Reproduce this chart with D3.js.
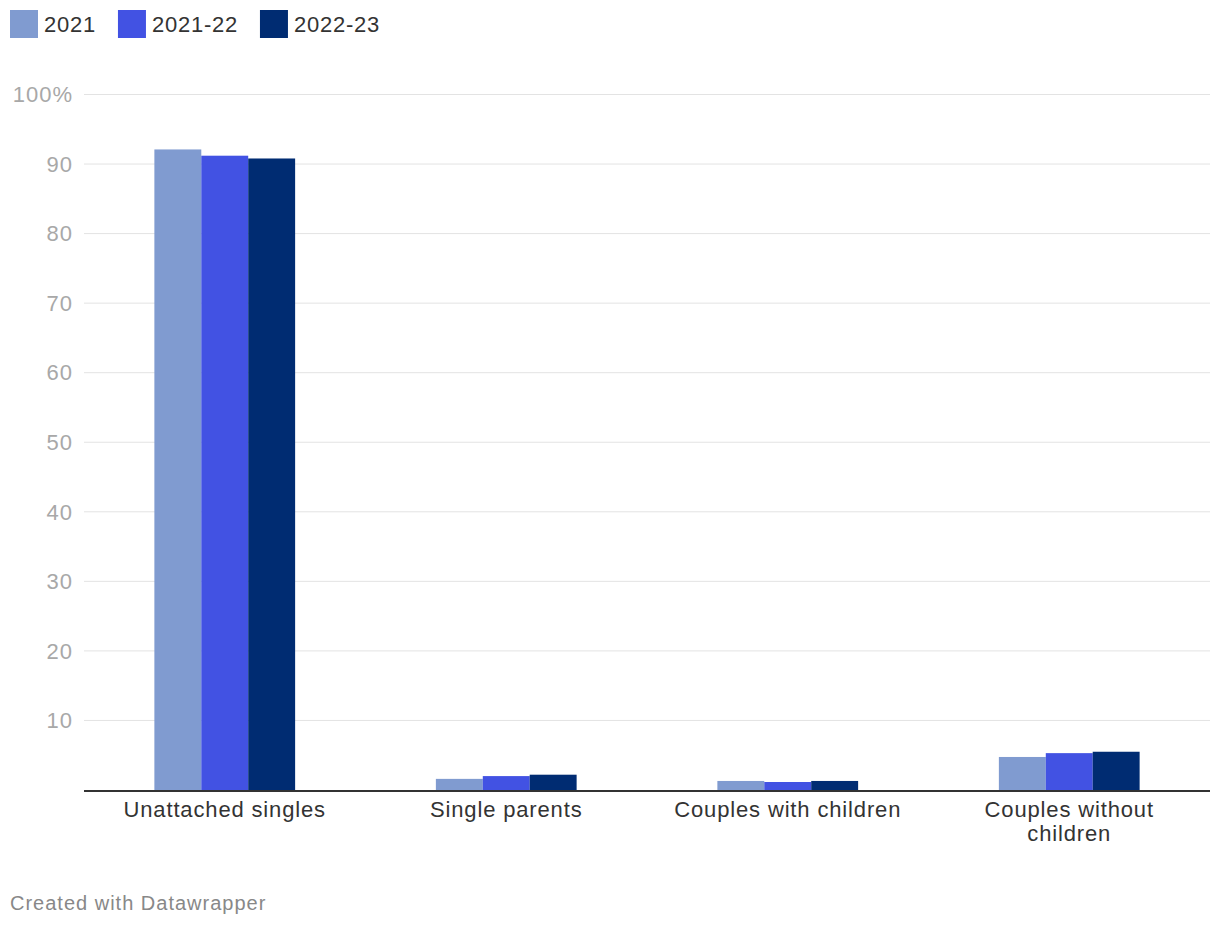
<!DOCTYPE html>
<html><head><meta charset="utf-8">
<script src="https://cdn.jsdelivr.net/npm/d3@7"></script>
<style>body{margin:0;background:#fff;font-family:"Liberation Sans",Arial,Helvetica,sans-serif;}</style>
</head><body>
<svg id="c" width="1220" height="928"></svg>
<script>
const categories = ["Unattached singles", "Single parents", "Couples with children", "Couples without children"];
const seriesNames = ["2021", "2021-22", "2022-23"];
const values2021 = [92.1, 1.6, 1.3, 4.75];
const values2122 = [91.2, 2.0, 1.15, 5.3];
const values2223 = [90.8, 2.2, 1.3, 5.5];
const colors = ["#809bd0", "#4252e3", "#002c72"];
const yTicks = [10, 20, 30, 40, 50, 60, 70, 80, 90, 100];

const series = [values2021, values2122, values2223];
const svg = d3.select("#c");
const font = '"Liberation Sans",Arial,Helvetica,sans-serif';

// legend
let lx = 10;
const legend = svg.append("g");
seriesNames.forEach((n, i) => {
  const g = legend.append("g").attr("transform", `translate(${lx},10)`);
  g.append("rect").attr("width", 28).attr("height", 28).attr("fill", colors[i]);
  const t = g.append("text").attr("x", 34).attr("y", 22).attr("font-size", 22).attr("letter-spacing", 0.75)
    .attr("fill", "#333").attr("font-family", font).text(n);
  lx += 34 + t.node().getComputedTextLength() + 22;
});

const x = d3.scaleBand().domain(categories).range([84, 1210]).paddingInner(0.5).paddingOuter(0.25);
const x1 = d3.scaleBand().domain(seriesNames).range([0, x.bandwidth()]);
const y = d3.scaleLinear().domain([0, 100]).range([790, 94.5]);

// grid
const grid = svg.append("g");
yTicks.forEach(t => {
  grid.append("line").attr("x1", 84).attr("x2", 1210).attr("y1", y(t)).attr("y2", y(t)).attr("stroke", "#e3e3e3").attr("stroke-width", 1);
  grid.append("text").attr("x", 73).attr("y", y(t)).attr("dy", "0.35em").attr("text-anchor", "end")
    .attr("font-size", 22).attr("letter-spacing", 1).attr("fill", "#a8a8a8").attr("font-family", font).text(t === 100 ? "100%" : t);
});

// bars
const bars = svg.append("g");
categories.forEach((c, ci) => {
  series.forEach((s, si) => {
    bars.append("rect")
      .attr("x", x(c) + x1(seriesNames[si]))
      .attr("width", x1.bandwidth())
      .attr("y", y(s[ci]))
      .attr("height", y(0) - y(s[ci]))
      .attr("fill", colors[si]);
  });
});

// axis line
svg.append("line").attr("x1", 84).attr("x2", 1210).attr("y1", y(0) + 1).attr("y2", y(0) + 1).attr("stroke", "#333").attr("stroke-width", 2);

// category labels
const labelLines = [["Unattached singles"], ["Single parents"], ["Couples with children"], ["Couples without", "children"]];
categories.forEach((c, ci) => {
  const t = svg.append("text").attr("text-anchor", "middle").attr("font-size", 22).attr("letter-spacing", 0.85)
    .attr("fill", "#333").attr("font-family", font);
  labelLines[ci].forEach((l, li) => {
    t.append("tspan").attr("x", x(c) + x.bandwidth() / 2).attr("y", 817 + li * 24).text(l);
  });
});

// footer
svg.append("text").attr("x", 10).attr("y", 910).attr("font-size", 20).attr("letter-spacing", 1).attr("fill", "#888").attr("font-family", font).text("Created with Datawrapper");
</script>
</body></html>
